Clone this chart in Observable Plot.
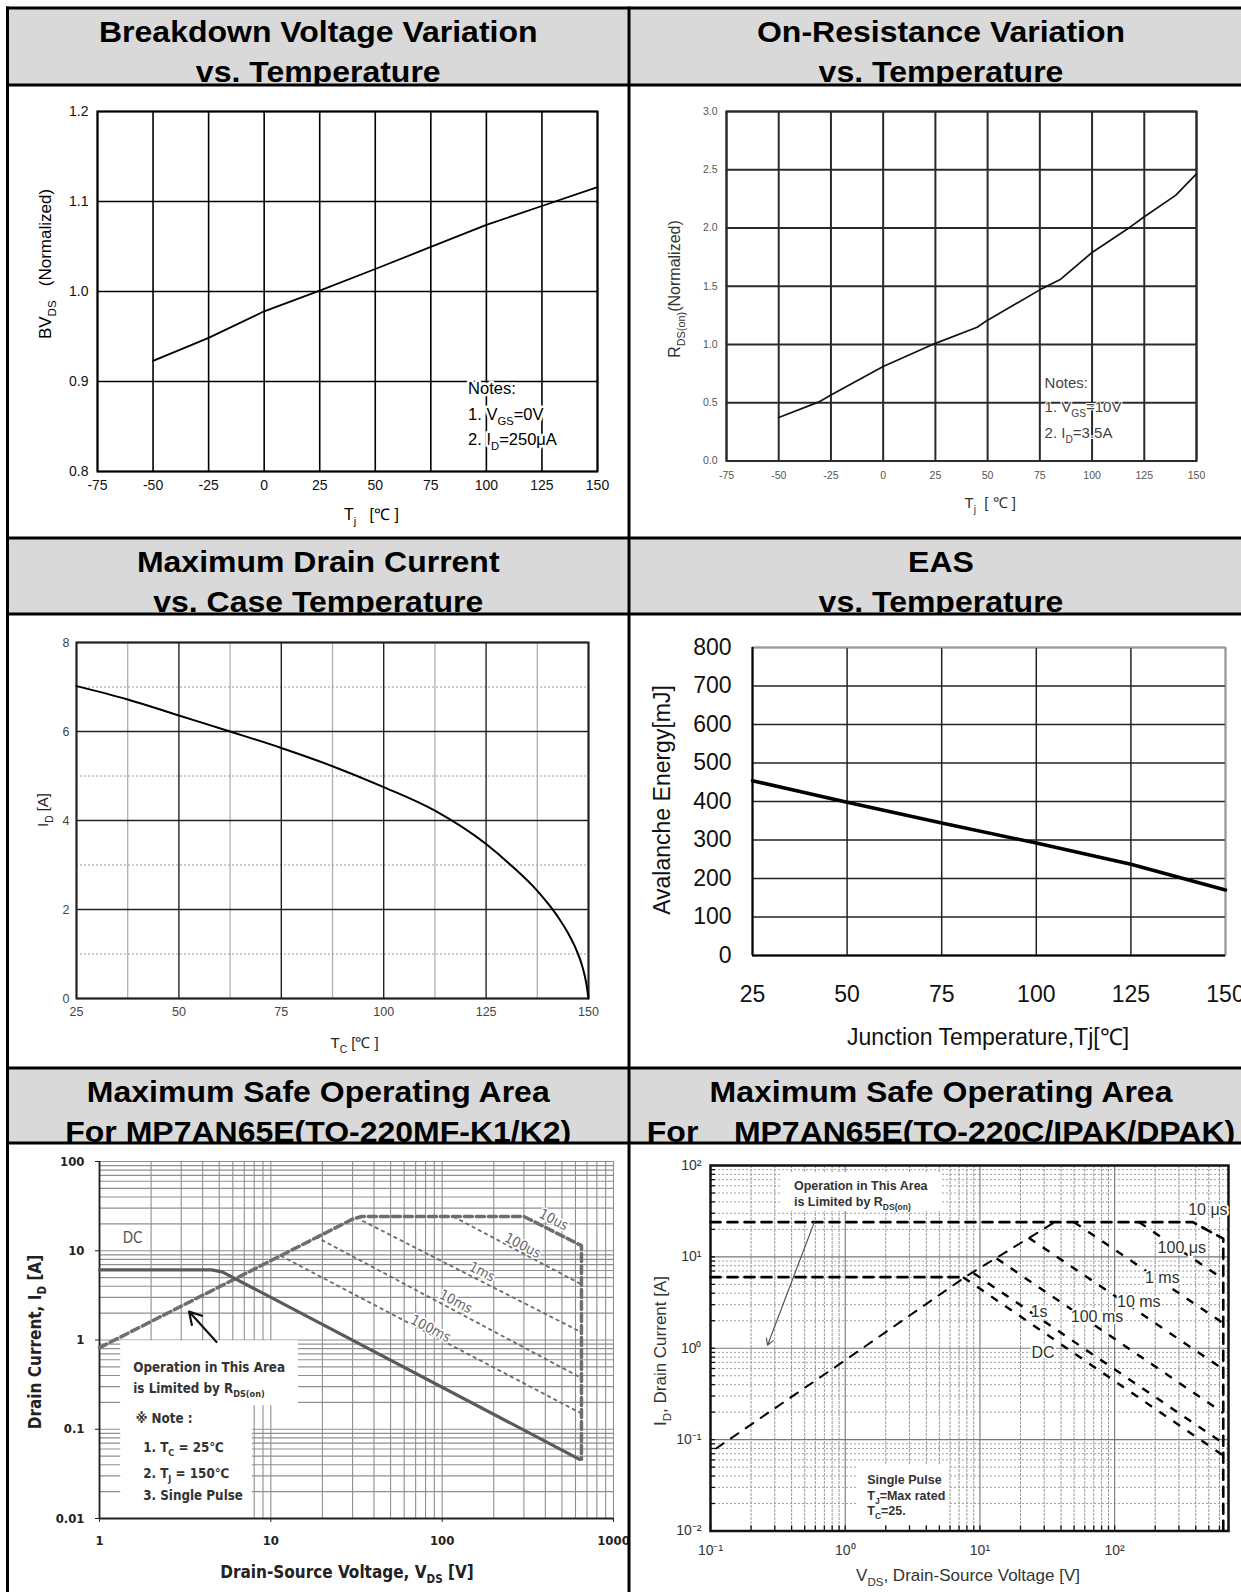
<!DOCTYPE html>
<html><head><meta charset="utf-8">
<script src="https://cdn.jsdelivr.net/npm/d3@7"></script>
<script src="https://cdn.jsdelivr.net/npm/@observablehq/plot@0.6"></script>
<style>
html,body{margin:0;padding:0;background:#fff;}
body{width:1241px;height:1592px;overflow:hidden;position:relative;}
#root{position:absolute;left:0;top:0;width:1260px;height:1600px;}
#root > svg{position:absolute;}
</style></head>
<body><div id="root"></div>
<script>
const ARIAL = "'Liberation Sans', Arial, Helvetica, sans-serif";
const NARROW = "'Liberation Sans Narrow','Arial Narrow','DejaVu Sans Condensed',sans-serif";

// ================= DATA =================
// Headers
const headerLeft = [["Breakdown Voltage Variation","vs. Temperature"],["Maximum Drain Current","vs. Case Temperature"],["Maximum Safe Operating Area","For MP7AN65E(TO-220MF-K1/K2)"]];
const headerRight = [["On-Resistance Variation","vs. Temperature"],["EAS","vs. Temperature"],["Maximum Safe Operating Area","For    MP7AN65E(TO-220C/IPAK/DPAK)"]];

// Panel 1: Breakdown voltage
const bvTemp = [-50,-25,0,25,50,75,100,125,150];
const bvNorm = [0.923,0.9485,0.978,1.001,1.025,1.0495,1.074,1.095,1.116];
const bvXTicks = [-75,-50,-25,0,25,50,75,100,125,150];
const bvYTicks = [0.8,0.9,1.0,1.1,1.2];
const bvNoteX = [92,92,92];
const bvNoteY = [0.886,0.857,0.829];
const bvNotes = [[["Notes:"]],[["1. V"],["GS","sub"],["=0V"]],[["2. I"],["D","sub"],["=250μA"]]];

// Panel 2: On-resistance
const rdsTemp = [-50,-31,-25,0,25,45,50,75,85,100,118,125,140,150];
const rdsNorm = [0.373,0.505,0.566,0.811,1.01,1.148,1.209,1.469,1.561,1.79,2.005,2.097,2.28,2.464];
const rdsXTicks = [-75,-50,-25,0,25,50,75,100,125,150];
const rdsYTicks = [0,0.5,1,1.5,2,2.5,3];
const rdsNoteX = [77.5,77.5,77.5];
const rdsNoteY = [0.619,0.416,0.193];
const rdsNotes = [[["Notes:"]],[["1. V"],["GS","sub"],["=10V"]],[["2. I"],["D","sub"],["=3.5A"]]];

// Panel 3: Max drain current vs case temperature
const idTemp = [25,37.5,50,62.5,75,87.5,100,112.5,125,131,137.5,141,143,145,147,148.5,149.5,150];
const idCurrent = [7.02,6.72,6.36,6.0,5.63,5.22,4.75,4.22,3.47,3.0,2.42,2.03,1.77,1.47,1.1,0.72,0.32,0];
const idXTicks = [25,50,75,100,125,150];
const idXMinor = [37.5,62.5,87.5,112.5,137.5];
const idYTicks = [0,2,4,6,8];
const idYMinor = [1,3,5,7];

// Panel 4: EAS
const easTemp = [25,50,75,100,125,150];
const easEnergy = [454,398,344,292,237,170];
const easXTicks = [25,50,75,100,125,150];
const easYTicks = [0,100,200,300,400,500,600,700,800];

// Panel 5: SOA TO-220MF
const logMult = [1,2,3,4,5,6,7,8,9];
const soa1XDecades = [1,10,100];
const soa1YDecades = [0.01,0.1,1,10];
const soa1XTicks = [1,10,100,1000];
const soa1XTickLabels = ["1","10","100","1000"];
const soa1YTicks = [0.01,0.1,1,10,100];
const soa1YTickLabels = ["0.01","0.1","1","10","100"];
const soa1DcV = [1,4.5,5.2,634];
const soa1DcI = [6.1,6.1,5.8,0.046];
const soa1LimV = [1,30,34,300,650,650];
const soa1LimI = [0.82,22.6,24.2,24.2,11.4,0.046];
const soa1PulseV1 = [116,34.2,18.2,11.4];
const soa1PulseI1 = [24.2,21.7,14.4,8.8];
const soa1PulseV2 = [650,650,650,650];
const soa1PulseI2 = [4.2,1.22,0.375,0.15];
const soa1LabelText = ["10us","100us","1ms","10ms","100ms"];
const soa1LabelV = [447,295,171,120,85.6];
const soa1LabelI = [22.2,11.4,5.8,2.69,1.34];
const soa1DcLabelV = [1.56], soa1DcLabelI = [14.0];
const soa1BoxX1 = [1.33,1.33], soa1BoxX2 = [14.5,7.8];
const soa1BoxY1 = [0.184,0.0101], soa1BoxY2 = [0.98,0.184];
const soa1ArrowX1 = [4.82], soa1ArrowY1 = [0.95], soa1ArrowX2 = [3.33], soa1ArrowY2 = [2.08];
const soa1NoteX = [1.585,1.585,1.64,1.81,1.81,1.81];
const soa1NoteY = [0.434,0.25,0.1156,0.055,0.028,0.0158];
const soa1Notes = [[["Operation in This Area"]],[["is Limited by R"],["DS(on)","sub"]],[["※ Note :"]],[["1. T"],["C","sub"],[" = 25℃"]],[["2. T"],["J","sub"],[" = 150℃"]],[["3. Single Pulse"]]];

// Panel 6: SOA TO-220C/IPAK/DPAK
const soa2XDecades = [0.1,1,10];
const soa2XLast = [100,200,300,400,500,600,700];
const soa2YDecades = [0.01,0.1,1,10];
const soa2XTicks = [0.1,1,10,100];
const soa2XTickLabels = ["10⁻¹","10⁰","10¹","10²"];
const soa2YTicks = [0.01,0.1,1,10,100];
const soa2YTickLabels = ["10⁻²","10⁻¹","10⁰","10¹","10²"];
const soa2LimV = [0.11,1,8,36];
const soa2LimI = [0.08,0.74,6.2,24];
const soa2TopV = [0.1,380,640,640];
const soa2TopI = [24,24,15.8,0.01];
const soa2SixV = [0.1,7.5];
const soa2SixI = [6,6];
const soa2PulseV1 = [152,50,23,13.3,9,7.5];
const soa2PulseI1 = [24,24,16.2,9.6,6.6,6];
const soa2PulseV2 = [640,640,640,640,640,640];
const soa2PulseI2 = [5.7,1.88,0.59,0.196,0.091,0.067];
const soa2LabelText = ["10 μs","100 μs","1 ms","10 ms","100 ms","1s","DC"];
const soa2LabelV = [492,315,226,151,74,27.5,29.4];
const soa2LabelI = [33,12.4,5.95,3.25,2.23,2.5,0.9];
const soa2BoxX1 = [0.342,1.24], soa2BoxX2 = [5.15,5.9];
const soa2BoxY1 = [31.4,0.0118], soa2BoxY2 = [83.8,0.052];
const soa2ArrowX1 = [0.59], soa2ArrowY1 = [24], soa2ArrowX2 = [0.265], soa2ArrowY2 = [1.08];
const soa2NoteX = [0.42,0.42,1.47,1.47,1.47];
const soa2NoteY = [53,35.6,0.0324,0.0216,0.0146];
const soa2Notes = [[["Operation in This Area"]],[["is Limited by R"],["DS(on)","sub"]],[["Single Pulse"]],[["T"],["J","sub"],["=Max rated"]],[["T"],["C","sub"],["=25."]]];

// ================= LAYOUT =================
const COLS = [7.5, 629, 1253];
const HEAD = [[8,85],[538,614],[1068,1143]];
const HEAD_BASE = [34,74];
const root = d3.select("#root");
const hyphen = d => (d < 0 ? "-" + (-d) : String(d));

// header backgrounds and titles
const bg = root.append("svg").attr("width",1260).attr("height",1600).style("left","0px").style("top","0px");
HEAD.forEach(([t,b],r) => {
  bg.append("rect").attr("x",COLS[0]).attr("y",t).attr("width",COLS[2]-COLS[0]).attr("height",b-t).attr("fill","#d9d9d9");
  [headerLeft[r], headerRight[r]].forEach((lines,c) => {
    const x0 = COLS[c], x1 = COLS[c+1], id = "hc"+r+"_"+c;
    bg.append("clipPath").attr("id",id).append("rect").attr("x",x0).attr("y",t).attr("width",x1-x0).attr("height",b-t);
    const g = bg.append("g").attr("clip-path",`url(#${id})`);
    lines.forEach((s,i) => g.append("text")
      .attr("transform",`translate(${(x0+x1)/2},${t+HEAD_BASE[i]}) scale(1,0.94)`)
      .attr("text-anchor","middle").attr("font-family",ARIAL).attr("font-weight","bold")
      .attr("font-size",32).attr("fill","#000").style("white-space","pre").text(s));
  });
});

function panel(cell, frame, opts) {
  const [cx0,cy0,cx1,cy1] = cell, [fx0,fy0,fx1,fy1] = frame;
  const svg = Plot.plot({
    width: cx1-cx0, height: cy1-cy0,
    marginLeft: fx0-cx0, marginRight: cx1-fx1, marginTop: fy0-cy0, marginBottom: cy1-fy1,
    style: {background:"transparent", overflow:"visible", maxWidth:"none", fontFamily:ARIAL, color:"#111"},
    ...opts
  });
  svg.style.position = "absolute"; svg.style.left = cx0+"px"; svg.style.top = cy0+"px";
  svg.style.maxWidth = "none"; svg.style.overflow = "visible";
  document.getElementById("root").appendChild(svg);
  svg._ox = cx0; svg._oy = cy0;
  return svg;
}
function sc(svg,k){ const s = svg.scale(k); if (s.apply) return v => s.apply(v);
  const f = (s.type === "log" ? d3.scaleLog() : d3.scaleLinear()).domain(s.domain).range(s.range); return f; }
function rich(svg, x, y, segs, o = {}) {
  const fs = o.fontSize || 14;
  const t = d3.select(svg).append("text")
    .attr("transform", `translate(${x},${y})` + (o.rotate ? ` rotate(${o.rotate})` : ""))
    .attr("text-anchor", o.anchor || "start").attr("font-size", fs)
    .attr("font-family", o.fontFamily || ARIAL).attr("font-weight", o.fontWeight || "normal")
    .attr("fill", o.fill || "#000").style("white-space","pre");
  if (o.halo) t.attr("stroke","white").attr("stroke-width",o.halo).attr("paint-order","stroke").attr("stroke-linejoin","round");
  let shift = 0;
  for (const [s,kind] of segs) {
    const target = kind === "sub" ? fs*0.3 : kind === "sup" ? -fs*0.35 : 0;
    const ts = t.append("tspan").text(s).attr("dy", target - shift);
    if (kind) ts.attr("font-size", fs*0.68);
    shift = target;
  }
  return t;
}
function title(svg, ax, ay, segs, o) { return rich(svg, ax - svg._ox, ay - svg._oy, segs, o); }
function notes(svg, xs, ys, lines, o) {
  const fx = sc(svg,"x"), fy = sc(svg,"y");
  lines.forEach((segs,i) => rich(svg, fx(xs[i]), fy(ys[i]), segs, o));
}

// ---------- Panel 1 ----------
const p1 = panel([9,86,628,537],[97,111,597,471],{
  x:{domain:[-75,150]}, y:{domain:[0.8,1.2]},
  marks:[
    Plot.ruleX(bvXTicks,{stroke:"#000",strokeWidth:1.6}),
    Plot.ruleY(bvYTicks,{stroke:"#000",strokeWidth:1.6}),
    Plot.frame({stroke:"#000",strokeWidth:2}),
    Plot.line(bvTemp,{x:bvTemp,y:bvNorm,stroke:"#000",strokeWidth:1.8}),
    Plot.axisX({ticks:bvXTicks,tickFormat:hyphen,tickSize:0,tickPadding:9,fontSize:14,label:null,fill:"#111"}),
    Plot.axisY({ticks:bvYTicks,tickSize:0,tickPadding:9,fontSize:14,label:null,fill:"#111",tickFormat:d3.format(".1f")})
  ]});
notes(p1, bvNoteX, bvNoteY, bvNotes, {fontSize:16.5, halo:5});
title(p1, 344, 520, [["T"],["j","sub"],["   [℃ ]"]], {fontSize:16});
title(p1, 51, 264, [["BV"],["DS","sub"],["   (Normalized)"]], {fontSize:17, rotate:-90, anchor:"middle"});

// ---------- Panel 2 ----------
const p2 = panel([631,86,1253,537],[726,111,1196,460.5],{
  x:{domain:[-75,150]}, y:{domain:[0,3]},
  marks:[
    Plot.ruleX(rdsXTicks,{stroke:"#2b2b2b",strokeWidth:2}),
    Plot.ruleY(rdsYTicks,{stroke:"#2b2b2b",strokeWidth:2}),
    Plot.frame({stroke:"#2b2b2b",strokeWidth:2}),
    Plot.line(rdsTemp,{x:rdsTemp,y:rdsNorm,stroke:"#111",strokeWidth:1.7}),
    Plot.axisX({ticks:rdsXTicks,tickFormat:hyphen,tickSize:0,tickPadding:10.5,fontSize:10.5,label:null,fill:"#555"}),
    Plot.axisY({ticks:rdsYTicks,tickSize:0,tickPadding:9,fontSize:10.5,label:null,fill:"#555",tickFormat:d3.format(".1f")})
  ]});
notes(p2, rdsNoteX, rdsNoteY, rdsNotes, {fontSize:15, fill:"#444", halo:2});
title(p2, 964.5, 508, [["T"],["j","sub"],["  [ ℃ ]"]], {fontSize:15, fill:"#333"});
title(p2, 680, 289, [["R"],["DS(on)","sub"],["(Normalized)"]], {fontSize:16, rotate:-90, anchor:"middle", fill:"#333"});

// ---------- Panel 3 ----------
const p3 = panel([9,615,628,1067],[76,642,588,998],{
  x:{domain:[25,150]}, y:{domain:[0,8]},
  marks:[
    Plot.ruleX(idXMinor,{stroke:"#b0b0b0",strokeWidth:1.3}),
    Plot.ruleY(idYMinor,{stroke:"#9a9a9a",strokeWidth:1,strokeDasharray:"2,2"}),
    Plot.ruleX(idXTicks,{stroke:"#222",strokeWidth:1.4}),
    Plot.ruleY(idYTicks,{stroke:"#222",strokeWidth:1.4}),
    Plot.frame({stroke:"#222",strokeWidth:2}),
    Plot.line(idTemp,{x:idTemp,y:idCurrent,stroke:"#000",strokeWidth:2,curve:"monotone-x"}),
    Plot.axisX({ticks:idXTicks,tickSize:0,tickPadding:9,fontSize:12.5,label:null,fill:"#444"}),
    Plot.axisY({ticks:idYTicks,tickSize:0,tickPadding:7,fontSize:12.5,label:null,fill:"#444"})
  ]});
title(p3, 330.5, 1048, [["T"],["C","sub"],[" [℃ ]"]], {fontSize:15, fill:"#222"});
title(p3, 48, 810, [["I"],["D","sub"],[" [A]"]], {fontSize:15, rotate:-90, anchor:"middle", fill:"#222"});

// ---------- Panel 4 ----------
const p4 = panel([631,615,1253,1067],[752,647,1225,955],{
  x:{domain:[25,150]}, y:{domain:[0,800]},
  marks:[
    Plot.ruleX(easXTicks,{stroke:"#222",strokeWidth:1.5}),
    Plot.ruleY(easYTicks,{stroke:"#222",strokeWidth:1.5}),
    Plot.frame({stroke:"#999",strokeWidth:1.5}),
    Plot.ruleX([25],{stroke:"#000",strokeWidth:2}),
    Plot.ruleY([0],{stroke:"#000",strokeWidth:2}),
    Plot.line(easTemp,{x:easTemp,y:easEnergy,stroke:"#000",strokeWidth:3.5}),
    Plot.axisX({ticks:easXTicks,tickSize:0,tickPadding:30,fontSize:23,label:null,fill:"#111"}),
    Plot.axisY({ticks:easYTicks,tickSize:0,tickPadding:21,fontSize:23,label:null,fill:"#111"})
  ]});
title(p4, 988, 1045, [["Junction Temperature,Tj[℃]"]], {fontSize:23, anchor:"middle", fill:"#111"});
title(p4, 670, 800, [["Avalanche Energy[mJ]"]], {fontSize:23, rotate:-90, anchor:"middle", fill:"#111"});

// ---------- Panel 5 ----------
const soa1XGrid = soa1XDecades.flatMap(d => logMult.map(m => d*m)).concat([1000]);
const soa1YGrid = soa1YDecades.flatMap(d => logMult.map(m => d*m)).concat([100]);
const p5 = panel([9,1144,628,1592],[99,1161,613,1518],{
  x:{type:"log",domain:[1,1000]}, y:{type:"log",domain:[0.01,100]},
  marks:[
    Plot.ruleX(soa1XGrid,{stroke:"#8f8f8f",strokeWidth:1.1}),
    Plot.ruleY(soa1YGrid,{stroke:"#8f8f8f",strokeWidth:1.1}),
    Plot.rect(soa1BoxX1,{x1:soa1BoxX1,x2:soa1BoxX2,y1:soa1BoxY1,y2:soa1BoxY2,fill:"#fff"}),
    Plot.ruleX([1],{stroke:"#222",strokeWidth:1.8}),
    Plot.ruleY([0.01],{stroke:"#222",strokeWidth:1.8}),
    Plot.link(soa1PulseV1,{x1:soa1PulseV1,y1:soa1PulseI1,x2:soa1PulseV2,y2:soa1PulseI2,stroke:"#6a6a6a",strokeWidth:1.8,strokeDasharray:"4,3"}),
    Plot.line(soa1LimV,{x:soa1LimV,y:soa1LimI,stroke:"#6e6e6e",strokeWidth:3.5,strokeDasharray:"8,4"}),
    Plot.line(soa1DcV,{x:soa1DcV,y:soa1DcI,stroke:"#5a5a5a",strokeWidth:3.2}),
    Plot.arrow(soa1ArrowX1,{x1:soa1ArrowX1,y1:soa1ArrowY1,x2:soa1ArrowX2,y2:soa1ArrowY2,stroke:"#111",strokeWidth:2.2,headLength:12}),
    Plot.text(soa1LabelText,{x:soa1LabelV,y:soa1LabelI,text:d=>d,rotate:27.5,fontSize:14,fill:"#666",stroke:"#fff",strokeWidth:3,fontFamily:NARROW}),
    Plot.text(["DC"],{x:soa1DcLabelV,y:soa1DcLabelI,text:d=>d,fontSize:15,fill:"#555",fontFamily:NARROW}),
    Plot.axisX({ticks:soa1XTicks,tickFormat:d=>soa1XTickLabels[soa1XTicks.indexOf(d)],tickSize:4,tickPadding:13,fontSize:13,fontWeight:"bold",fontFamily:NARROW,label:null,fill:"#222",stroke:"#222"}),
    Plot.axisY({ticks:soa1YTicks,tickFormat:d=>soa1YTickLabels[soa1YTicks.indexOf(d)],tickSize:4,tickPadding:11,fontSize:13,fontWeight:"bold",fontFamily:NARROW,label:null,fill:"#222",stroke:"#222"})
  ]});
notes(p5, soa1NoteX, soa1NoteY, soa1Notes, {fontSize:13.3, fontWeight:"bold", fontFamily:NARROW, fill:"#333"});
title(p5, 347, 1578, [["Drain-Source Voltage, V"],["DS","sub"],[" [V]"]], {fontSize:17, anchor:"middle", fontWeight:"bold", fontFamily:NARROW, fill:"#222"});
title(p5, 41, 1342, [["Drain Current, I"],["D","sub"],[" [A]"]], {fontSize:17, rotate:-90, anchor:"middle", fontWeight:"bold", fontFamily:NARROW, fill:"#222"});

// ---------- Panel 6 ----------
const soa2XGrid = soa2XDecades.flatMap(d => logMult.map(m => d*m)).concat(soa2XLast);
const soa2XMinor = soa2XGrid.filter(v => !soa2XTicks.includes(v));
const soa2YGrid = soa2YDecades.flatMap(d => logMult.map(m => d*m)).concat([100]);
const soa2YMinor = soa2YGrid.filter(v => !soa2YTicks.includes(v));
const p6 = panel([631,1144,1253,1592],[710,1165,1228,1530.5],{
  x:{type:"log",domain:[0.1,700]}, y:{type:"log",domain:[0.01,100]},
  marks:[
    Plot.ruleX(soa2XMinor,{stroke:"#9a9a9a",strokeWidth:1,strokeDasharray:"3,1"}),
    Plot.ruleY(soa2YMinor,{stroke:"#a0a0a0",strokeWidth:1,strokeDasharray:"2,2"}),
    Plot.ruleX(soa2XTicks,{stroke:"#777",strokeWidth:1.1}),
    Plot.ruleY(soa2YTicks,{stroke:"#777",strokeWidth:1.1}),
    Plot.ruleX(soa2XGrid,{stroke:"#111",strokeWidth:1.3,insetTop:360.5}),
    Plot.ruleY(soa2YGrid,{stroke:"#111",strokeWidth:1.3,insetRight:513}),
    Plot.rect(soa2BoxX1,{x1:soa2BoxX1,x2:soa2BoxX2,y1:soa2BoxY1,y2:soa2BoxY2,fill:"#fff"}),
    Plot.frame({stroke:"#111",strokeWidth:2.5}),
    Plot.line(soa2TopV,{x:soa2TopV,y:soa2TopI,stroke:"#000",strokeWidth:2.6,strokeDasharray:"10,7"}),
    Plot.line(soa2SixV,{x:soa2SixV,y:soa2SixI,stroke:"#000",strokeWidth:2.6,strokeDasharray:"10,7"}),
    Plot.line(soa2LimV,{x:soa2LimV,y:soa2LimI,stroke:"#000",strokeWidth:2,strokeDasharray:"9,9"}),
    Plot.link(soa2PulseV1,{x1:soa2PulseV1,y1:soa2PulseI1,x2:soa2PulseV2,y2:soa2PulseI2,stroke:"#000",strokeWidth:2.4,strokeDasharray:"8,9"}),
    Plot.arrow(soa2ArrowX1,{x1:soa2ArrowX1,y1:soa2ArrowY1,x2:soa2ArrowX2,y2:soa2ArrowY2,stroke:"#555",strokeWidth:1.2,headLength:9}),
    Plot.text(soa2LabelText,{x:soa2LabelV,y:soa2LabelI,text:d=>d,fontSize:16,fill:"#333",stroke:"#fff",strokeWidth:4}),
    Plot.axisX({ticks:soa2XTicks,tickFormat:d=>soa2XTickLabels[soa2XTicks.indexOf(d)],tickSize:0,tickPadding:14,fontSize:14,label:null,fill:"#333"}),
    Plot.axisY({ticks:soa2YTicks,tickFormat:d=>soa2YTickLabels[soa2YTicks.indexOf(d)],tickSize:0,tickPadding:9,fontSize:14,label:null,fill:"#333"})
  ]});
notes(p6, soa2NoteX, soa2NoteY, soa2Notes, {fontSize:12.5, fontWeight:"bold", fill:"#333"});
title(p6, 968, 1581, [["V"],["DS","sub"],[", Drain-Source Voltage [V]"]], {fontSize:17, anchor:"middle", fill:"#333"});
title(p6, 666, 1351, [["I"],["D","sub"],[", Drain Current [A]"]], {fontSize:17, rotate:-90, anchor:"middle", fill:"#333"});

// ---------- table borders on top ----------
const fg = root.append("svg").attr("width",1260).attr("height",1600).style("left","0px").style("top","0px").style("pointer-events","none");
[8,85,538,614,1068,1143].forEach(y => fg.append("line").attr("x1",COLS[0]-1.5).attr("x2",1260).attr("y1",y).attr("y2",y).attr("stroke","#000").attr("stroke-width",3));
COLS.forEach(x => fg.append("line").attr("x1",x).attr("x2",x).attr("y1",6.5).attr("y2",1600).attr("stroke","#000").attr("stroke-width",3));
</script>
</body></html>
